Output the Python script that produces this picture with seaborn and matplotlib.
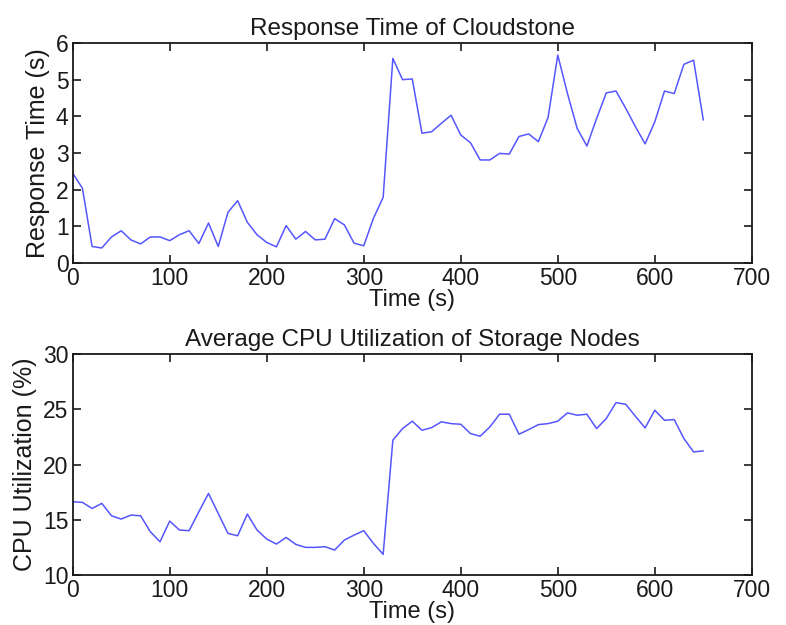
import matplotlib
matplotlib.use("Agg")
import matplotlib.pyplot as plt
import pandas as pd
import seaborn as sns

# Sampling instants (s)
time_s = [0, 10, 20, 30, 40, 50, 60, 70, 80, 90,
          100, 110, 120, 130, 140, 150, 160, 170, 180, 190,
          200, 210, 220, 230, 240, 250, 260, 270, 280, 290,
          300, 310, 320, 330, 340, 350, 360, 370, 380, 390,
          400, 410, 420, 430, 440, 450, 460, 470, 480, 490,
          500, 510, 520, 530, 540, 550, 560, 570, 580, 590,
          600, 610, 620, 630, 640, 650]

# Cloudstone response time (s)
response_time = [2.45, 2.04, 0.45, 0.41, 0.71, 0.88, 0.63, 0.52, 0.71, 0.71,
                 0.61, 0.77, 0.88, 0.53, 1.09, 0.45, 1.38, 1.70, 1.11, 0.77,
                 0.56, 0.44, 1.02, 0.65, 0.86, 0.63, 0.65, 1.21, 1.04, 0.54,
                 0.47, 1.22, 1.79, 5.58, 5.00, 5.02, 3.54, 3.58, 3.81, 4.03,
                 3.49, 3.28, 2.81, 2.81, 2.99, 2.97, 3.45, 3.52, 3.31, 3.97,
                 5.67, 4.62, 3.67, 3.19, 3.94, 4.64, 4.69, 4.22, 3.72, 3.25,
                 3.85, 4.69, 4.62, 5.42, 5.53, 3.90]

# Average CPU utilization of the storage nodes (%)
cpu_util = [16.63, 16.57, 16.02, 16.48, 15.36, 15.06, 15.42, 15.36, 13.92, 13.01,
            14.88, 14.07, 14.01, 15.72, 17.38, 15.57, 13.77, 13.55, 15.51, 14.07,
            13.25, 12.80, 13.40, 12.77, 12.50, 12.50, 12.56, 12.26, 13.16, 13.61,
            14.01, 12.86, 11.87, 22.20, 23.25, 23.92, 23.10, 23.34, 23.86, 23.70,
            23.64, 22.80, 22.56, 23.40, 24.55, 24.55, 22.74, 23.16, 23.61, 23.70,
            23.92, 24.67, 24.46, 24.55, 23.25, 24.16, 25.60, 25.45, 24.37, 23.31,
            24.91, 24.00, 24.07, 22.35, 21.14, 21.23]

df = pd.DataFrame({"time": time_s, "resp": response_time, "cpu": cpu_util})

sns.set_theme(style="white")
plt.rcParams["font.family"] = ["Liberation Sans", "DejaVu Sans"]

TICK_FS = 16.5
TITLE_FS = 17.5
XLABEL_FS = 17
YLABEL_FS = 18
LINE = "#5656ff"
INK = "#1a1a1a"

fig = plt.figure(figsize=(7.86, 6.25), dpi=100)
ax1 = fig.add_axes([0.0925, 0.5792, 0.864, 0.352])
ax2 = fig.add_axes([0.0925, 0.0800, 0.864, 0.3536])

panels = [
    (ax1, "resp", "Response Time of Cloudstone", "Response Time (s)", (0, 6), range(0, 7, 1)),
    (ax2, "cpu", "Average CPU Utilization of Storage Nodes", "CPU Utilization (%)", (10, 30), range(10, 31, 5)),
]

for ax, col, title, ylabel, ylim, yticks in panels:
    sns.lineplot(data=df, x="time", y=col, ax=ax, color=LINE, linewidth=1.1)
    ax.set_xlim(0, 700)
    ax.set_ylim(*ylim)
    ax.set_xticks(range(0, 701, 100))
    ax.set_yticks(list(yticks))
    ax.set_title(title, fontsize=TITLE_FS, pad=6, color=INK)
    ax.set_xlabel("Time (s)", fontsize=XLABEL_FS, labelpad=-1, color=INK)
    ax.set_ylabel(ylabel, fontsize=YLABEL_FS, labelpad=4, color=INK)
    ax.tick_params(axis="both", which="major", direction="in", length=6, width=1.2,
                   top=True, right=True, bottom=True, left=True,
                   labelsize=TICK_FS, pad=3, colors=INK)
    for sp in ax.spines.values():
        sp.set_visible(True)
        sp.set_color(INK)
        sp.set_linewidth(1.3)
    ax.grid(False)

fig.savefig("out.png", dpi=100)
